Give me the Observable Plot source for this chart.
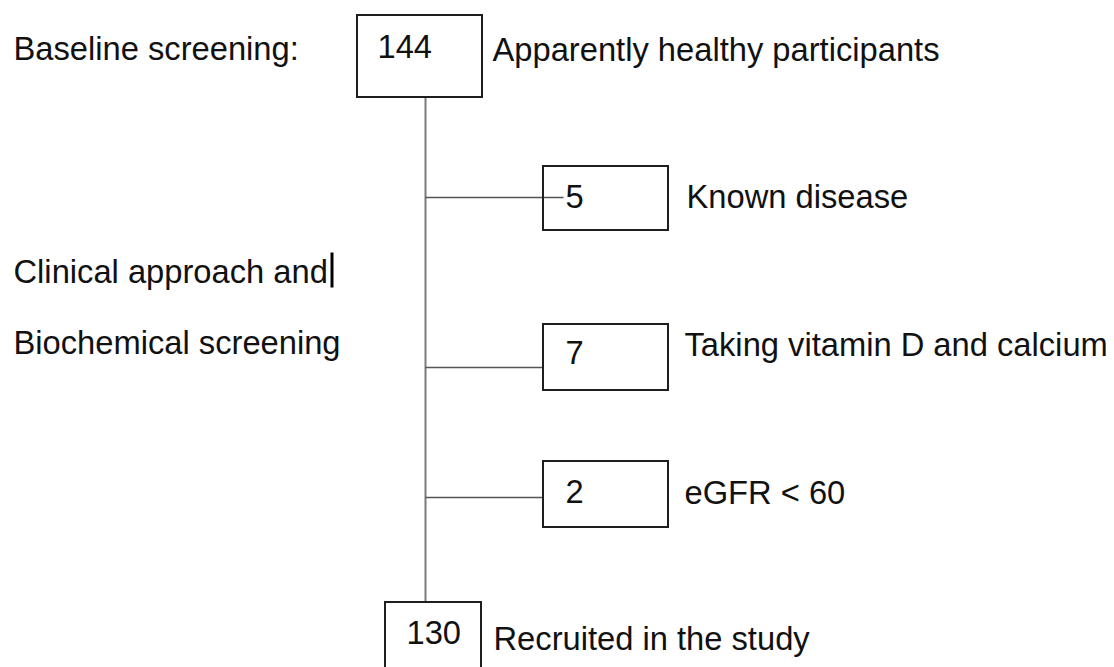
<!DOCTYPE html>
<html>
<head>
<meta charset="utf-8">
<script src="https://cdn.jsdelivr.net/npm/d3@7"></script>
<script src="https://cdn.jsdelivr.net/npm/@observablehq/plot@0.6"></script>
<style>
  html, body { margin: 0; padding: 0; background: #fff; overflow: hidden; }
  #chart svg { display: block; }
</style>
</head>
<body>
<div id="chart"></div>
<script>
// ---- Data ----
const stageLabels = ["Baseline screening:", "Clinical approach and", "Biochemical screening"];
const startCount = 144;
const startLabel = "Apparently healthy participants";
const exclusionCounts = [5, 7, 2];
const exclusionLabels = ["Known disease", "Taking vitamin D and calcium", "eGFR < 60"];
const finalCount = 130;
const finalLabel = "Recruited in the study";

// ---- Layout (pixel space, mapped through identity scales) ----
const W = 1114, H = 667;
const layout = {
  stageX: 13,
  stageBaselines: [59, 282, 353],
  spineX: 425,
  topBox: {x1: 357, x2: 482, y1: 15, y2: 97, textX: 377, baseline: 57, labelX: 492, labelBaseline: 60},
  exBoxX: [543, 668],
  exBoxY: [[166, 230], [324, 390], [461, 527]],
  exConnY: [197, 367, 497],
  exConnEnd: [563, 543, 543],
  exTextX: 565,
  exBaselines: [207, 363, 502],
  exLabelX: [686, 684, 684],
  exLabelBaselines: [207, 355, 503],
  bottomBox: {x1: 385, x2: 481, y1: 602, y2: 720, textX: 406, baseline: 643, labelX: 493, labelBaseline: 649},
  cursor: {x: 331.5, y1: 252, y2: 287}
};

const tb = layout.topBox, bb = layout.bottomBox;

const boxes = [
  {x1: tb.x1, x2: tb.x2, y1: tb.y1, y2: tb.y2},
  ...exclusionCounts.map((_, i) => ({x1: layout.exBoxX[0], x2: layout.exBoxX[1], y1: layout.exBoxY[i][0], y2: layout.exBoxY[i][1]})),
  {x1: bb.x1, x2: bb.x2, y1: bb.y1, y2: bb.y2}
];

const connectors = exclusionCounts.map((_, i) => ({x1: layout.spineX, x2: layout.exConnEnd[i], y: layout.exConnY[i]}));

const texts = [
  ...stageLabels.map((t, i) => ({x: layout.stageX, y: layout.stageBaselines[i], text: t})),
  {x: tb.textX, y: tb.baseline, text: String(startCount)},
  {x: tb.labelX, y: tb.labelBaseline, text: startLabel},
  ...exclusionCounts.map((c, i) => ({x: layout.exTextX, y: layout.exBaselines[i], text: String(c)})),
  ...exclusionLabels.map((t, i) => ({x: layout.exLabelX[i], y: layout.exLabelBaselines[i], text: t})),
  {x: bb.textX, y: bb.baseline, text: String(finalCount)},
  {x: bb.labelX, y: bb.labelBaseline, text: finalLabel}
];

const chart = Plot.plot({
  width: W,
  height: H,
  margin: 0,
  style: {background: "#fff", fontFamily: "'Liberation Sans', Arial, sans-serif"},
  x: {type: "linear", domain: [0, W], range: [0, W], axis: null},
  y: {type: "linear", domain: [0, H], range: [0, H], axis: null},
  marks: [
    Plot.link([{x: layout.spineX, y1: tb.y2, y2: bb.y1}], {x1: "x", x2: "x", y1: "y1", y2: "y2", stroke: "#7a7a7a", strokeWidth: 2}),
    Plot.link(connectors, {x1: "x1", x2: "x2", y1: "y", y2: "y", stroke: "#555", strokeWidth: 1.6}),
    Plot.rect(boxes, {x1: "x1", x2: "x2", y1: "y1", y2: "y2", fill: "none", stroke: "#1e1e1e", strokeWidth: 2}),
    Plot.link([layout.cursor], {x1: "x", x2: "x", y1: "y1", y2: "y2", stroke: "#000", strokeWidth: 3}),
    Plot.text(texts, {x: "x", y: "y", text: "text", textAnchor: "start", lineAnchor: "bottom", fontSize: 32.7, fill: "#111"})
  ]
});

document.getElementById("chart").appendChild(chart);
</script>
</body>
</html>
